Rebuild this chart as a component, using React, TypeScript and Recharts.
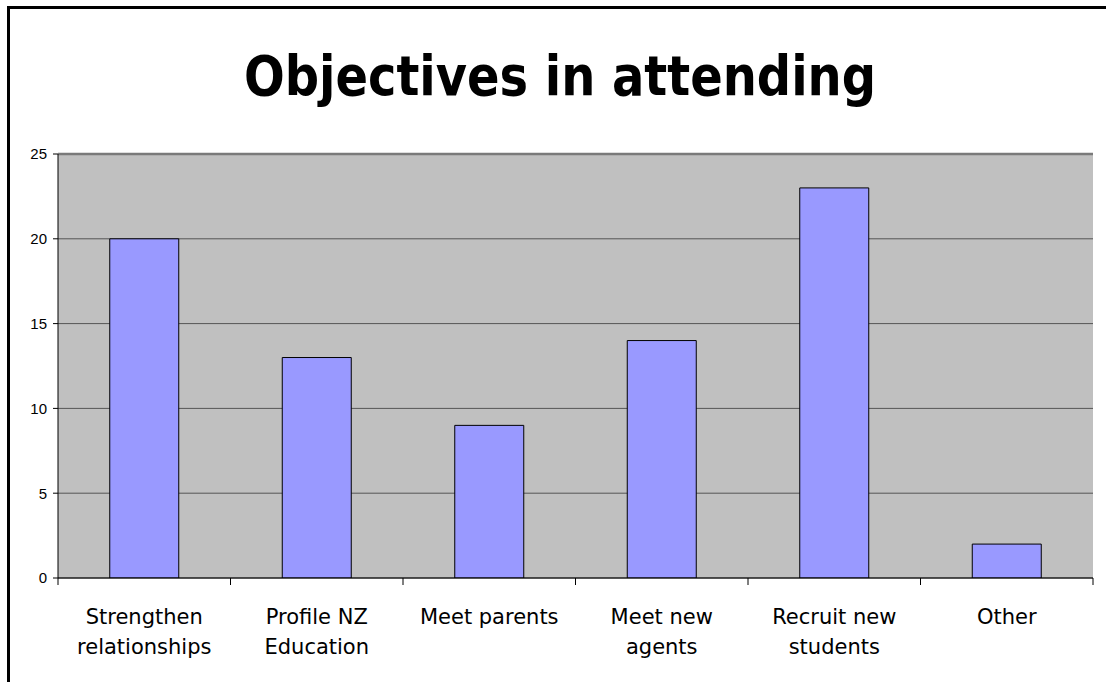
import React from "react";
import {
  BarChart,
  Bar,
  XAxis,
  YAxis,
  CartesianGrid,
  ReferenceLine,
} from "recharts";

const categories = [
  "Strengthen relationships",
  "Profile NZ Education",
  "Meet parents",
  "Meet new agents",
  "Recruit new students",
  "Other",
];
const labelLines = [
  ["Strengthen", "relationships"],
  ["Profile NZ", "Education"],
  ["Meet parents"],
  ["Meet new", "agents"],
  ["Recruit new", "students"],
  ["Other"],
];
const values = [20, 13, 9, 14, 23, 2];
const yTicks = [0, 5, 10, 15, 20, 25];
const title = "Objectives in attending";

const data = categories.map((c, i) => ({ name: c, value: values[i] }));

const CatTick = (props: any) => {
  const { x, y, payload, index, visibleTicksCount, width } = props;
  const idx = categories.indexOf(payload.value);
  const lines = labelLines[idx] || [payload.value];
  const band = visibleTicksCount ? width / visibleTicksCount : 0;
  return (
    <g>
      <line x1={x - band / 2} x2={x - band / 2} y1={y} y2={y + 7} stroke="#000" strokeWidth={1} />
      {index === visibleTicksCount - 1 && (
        <line x1={x + band / 2} x2={x + band / 2} y1={y} y2={y + 7} stroke="#000" strokeWidth={1} />
      )}
      {lines.map((l, i) => (
        <text
          key={i}
          x={x}
          y={y + 46 + i * 30}
          textAnchor="middle"
          fontFamily="DejaVu Sans"
          fontSize={21}
          fill="#000"
        >
          {l}
        </text>
      ))}
    </g>
  );
};

export default function App() {
  return (
    <div style={{ position: "absolute", left: 0, top: 0, width: 1106, height: 682, overflow: "hidden", background: "#fff" }}>
      <div
        style={{
          position: "absolute",
          left: 7,
          top: 6,
          width: 1200,
          height: 800,
          borderLeft: "3px solid #000",
          borderTop: "3px solid #000",
        }}
      />
      <svg style={{ position: "absolute", left: 0, top: 0 }} width={1106} height={140}>
        <text
          x={560}
          y={95}
          textAnchor="middle"
          fontFamily="DejaVu Sans"
          fontWeight="bold"
          fontSize={56}
          textLength={632}
          lengthAdjust="spacingAndGlyphs"
          fill="#000"
        >
          {title}
        </text>
      </svg>
      <div style={{ position: "absolute", left: 0, top: 0 }}>
        <BarChart
          width={1106}
          height={682}
          data={data}
          margin={{ top: 154, right: 13, left: 8, bottom: 24 }}
          barCategoryGap="30%"
        >
          <CartesianGrid
            vertical={false}
            horizontal={true}
            stroke="#555"
            strokeWidth={1}
            fill="#C0C0C0"
            fillOpacity={1}
          />
          <XAxis
            dataKey="name"
            type="category"
            tick={<CatTick />}
            tickLine={false}
            tickSize={0}
            tickMargin={0}
            axisLine={{ stroke: "#000" }}
            height={80}
            interval={0}
          />
          <YAxis
            domain={[0, 25]}
            ticks={yTicks}
            width={50}
            tickSize={5}
            tickMargin={6}
            tickLine={{ stroke: "#000" }}
            axisLine={{ stroke: "#000" }}
            tick={{ fontFamily: "Liberation Sans", fontSize: 15, fill: "#000" }}
            allowDataOverflow
          />
          <YAxis
            yAxisId="r"
            orientation="right"
            width={0}
            tick={false}
            tickLine={false}
            axisLine={{ stroke: "#808080", strokeWidth: 2 }}
          />
          <ReferenceLine y={25} stroke="#7a7a7a" strokeWidth={2.5} />
          <Bar
            dataKey="value"
            fill="#9999FF"
            stroke="#000"
            strokeWidth={1}
            isAnimationActive={false}
          />
        </BarChart>
      </div>
    </div>
  );
}
